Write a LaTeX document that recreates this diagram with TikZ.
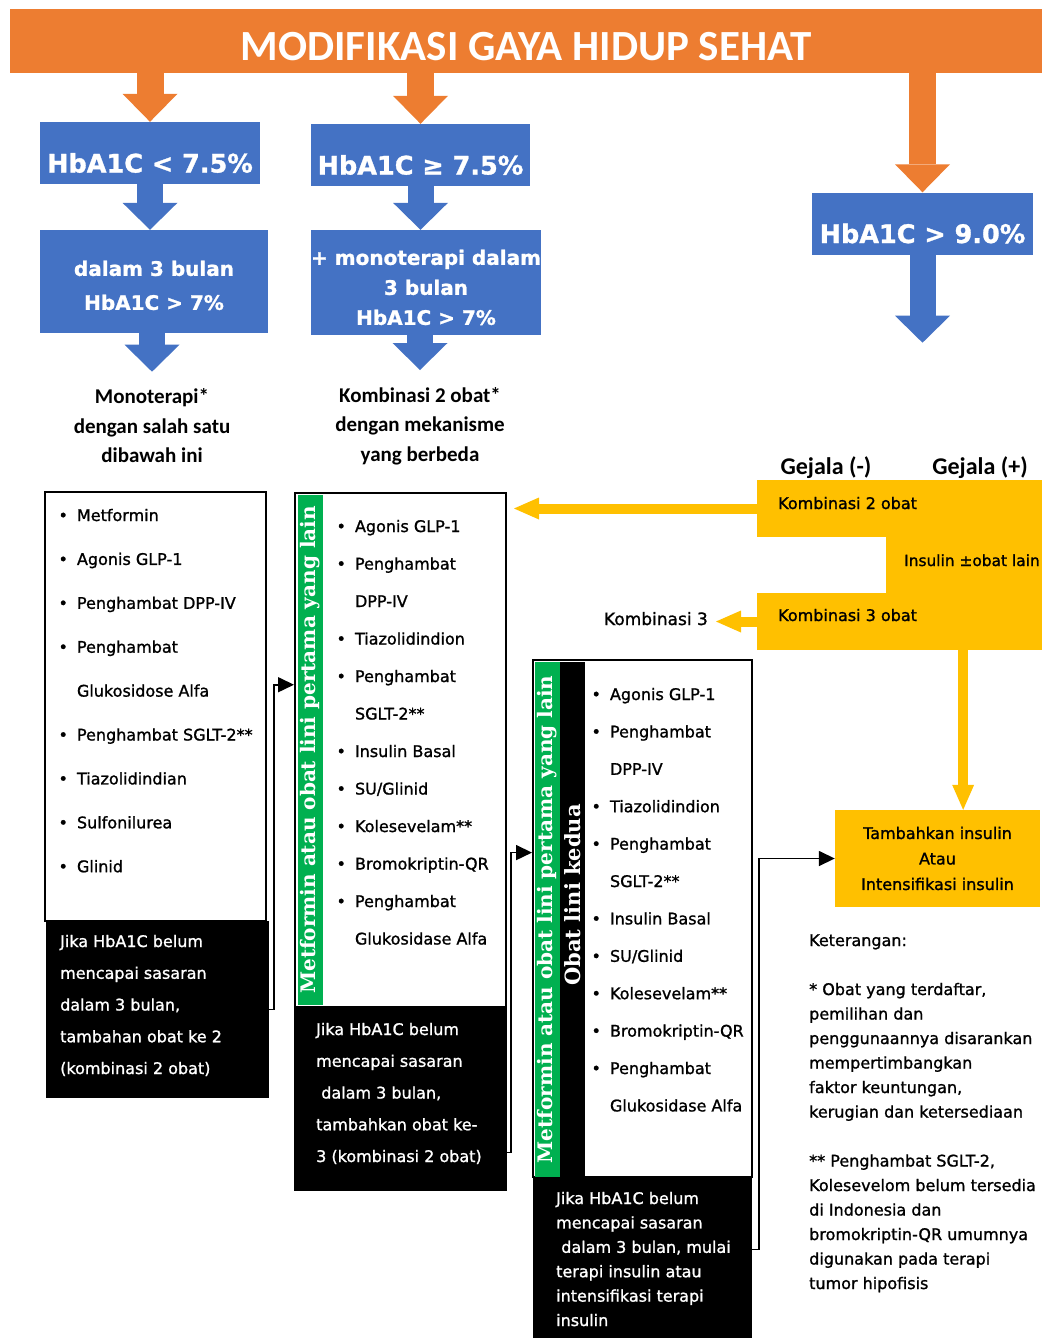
\documentclass[tikz,border=0pt]{standalone}
\usepackage{fontspec}
\setmainfont{DejaVu Sans}[FakeBold=1.2]
\newfontfamily\calfont{Carlito}
\newfontfamily\slabfont{DejaVu Serif}
\usepackage{xcolor}
\usepackage{tikz}
\usetikzlibrary{arrows.meta,positioning,calc}
\definecolor{ornj}{HTML}{ED7D31}
\definecolor{blu}{HTML}{4472C4}
\definecolor{kuning}{HTML}{FFC000}
\definecolor{hijau}{HTML}{00B050}
\newcommand{\bul}{\makebox[18.5pt][l]{\textbullet}}
\newcommand{\ind}{\hspace*{18.5pt}}

\begin{document}
\begin{tikzpicture}[x=1pt, y=-1pt,
    judulbox/.style={fill=ornj, text=white, inner sep=0pt, font=\calfont\bfseries\fontsize{43}{50}\selectfont},
    hba/.style={fill=blu, text=white, inner sep=0pt, minimum height=62pt, text height=41pt, text depth=2pt, font=\bfseries\fontsize{25.5}{30}\selectfont},
    dlm/.style={fill=blu, text=white, inner sep=0pt, align=center},
    ket/.style={font=\calfont\bfseries\fontsize{21}{29.5}\selectfont, align=center, inner sep=0pt},
    kotak/.style={draw, line width=2pt, fill=white, inner sep=0pt},
    hitam/.style={fill=black, inner sep=0pt},
    strip/.style={rotate=90, inner sep=0pt, text=white, font=\slabfont\bfseries\fontsize{20}{22}\selectfont},
    isi/.style={anchor=base west, inner sep=0pt},
    kng/.style={fill=kuning, inner sep=0pt},
    teks/.style={inner sep=0pt, font=\fontsize{16}{20}\selectfont},
    oarr/.style={draw=ornj, line width=27pt, -{Triangle[width=55pt, length=28pt, line width=0pt]}},
    barr/.style={draw=blu, line width=26pt, -{Triangle[width=55pt, length=27pt, line width=0pt]}},
    yarr/.style={draw=kuning, line width=10pt, -{Triangle[width=22pt, length=25pt, line width=0pt]}},
    conn/.style={draw, line width=1.6pt, -{Triangle[width=15pt, length=16pt]}}
  ]
    \useasboundingbox (0,0) rectangle (1042,1338);

    \node[judulbox, minimum width=1032pt, minimum height=64pt, text height=38pt, text depth=0pt] (judul) at (526,41) {MODIFIKASI GAYA HIDUP SEHAT};
    \node[hba, minimum width=220pt] (hbA) at (150,153) {HbA1C < 7.5\%};
    \node[hba, minimum width=219pt] (hbB) at (420.5,155) {HbA1C ≥ 7.5\%};
    \node[hba, minimum width=221pt] (hbC) at (922.5,223.5) {HbA1C > 9.0\%};
    \node[dlm, minimum width=228pt, minimum height=103pt, font=\bfseries\fontsize{20}{34}\selectfont] (dlmA) at (154,281.5) {\rule{0pt}{23pt}dalam 3 bulan\\HbA1C > 7\%};
    \node[dlm, minimum width=230pt, minimum height=105pt, font=\bfseries\fontsize{20}{30}\selectfont] (dlmB) at (426,282.5) {\rule{0pt}{25pt}+ monoterapi dalam\\3 bulan\\HbA1C > 7\%};
    \node[ket] (monoA) at (152,426) {Monoterapi*\\dengan salah satu\\dibawah ini};
    \node[ket] (kombB) at (420,426) {Kombinasi 2 obat*\\dengan mekanisme\\yang berbeda};

    \foreach \j in {hbA, hbB, hbC}
      \draw[oarr] (judul.south -| \j.north) -- (\j.north);
    \foreach \i/\j in {hbA/dlmA, hbB/dlmB}
      \draw[barr] (\i.south) -- (\i.south |- \j.north);
    \foreach \i/\j in {dlmA/monoA, dlmB/kombB}
      \draw[barr, shorten >=17pt] (\i.south -| \j.north) -- (\j.north);
    \coordinate (ujungC) at ($(hbC.south)+(0,88)$);
    \draw[barr] (hbC.south) -- (ujungC);

    \node[kotak, minimum width=221pt, minimum height=429pt] (lstA) at (155.5,706.5) {};
    \node[isi, font=\fontsize{16}{43.9}\selectfont] (isiA) at (58.3,521) {\begin{tabular}[t]{@{}l@{}}
      \bul Metformin\\ \bul Agonis GLP-1\\ \bul Penghambat DPP-IV\\ \bul Penghambat\\ \ind Glukosidose Alfa\\
      \bul Penghambat SGLT-2**\\ \bul Tiazolidindian\\ \bul Sulfonilurea\\ \bul Glinid
    \end{tabular}};
    \node[hitam, minimum width=223pt, minimum height=177pt] (ketA) at (157.5,1009.5) {};
    \node[isi, text=white, font=\fontsize{16}{31.75}\selectfont] (tA) at (60,947) {\begin{tabular}[t]{@{}l@{}}
      Jika HbA1C belum\\ mencapai sasaran\\ dalam 3 bulan,\\ tambahan obat ke 2\\ (kombinasi 2 obat)
    \end{tabular}};

    \node[kotak, minimum width=211pt, minimum height=514pt] (lstB) at (400.5,750) {};
    \node[strip, fill=hijau, minimum width=510pt, minimum height=25pt] (gB) at (310.5,750) {Metformin atau obat lini pertama yang lain};
    \node[isi, font=\fontsize{16}{37.5}\selectfont] (isiB) at (336.3,532) {\begin{tabular}[t]{@{}l@{}}
      \bul Agonis GLP-1\\ \bul Penghambat\\ \ind DPP-IV\\ \bul Tiazolidindion\\ \bul Penghambat\\ \ind SGLT-2**\\
      \bul Insulin Basal\\ \bul SU/Glinid\\ \bul Kolesevelam**\\ \bul Bromokriptin-QR\\ \bul Penghambat\\ \ind Glukosidase Alfa
    \end{tabular}};
    \node[hitam, minimum width=213pt, minimum height=184pt] (ketB) at (400.5,1099) {};
    \node[isi, text=white, font=\fontsize{16}{31.75}\selectfont] (tB) at (316,1035) {\begin{tabular}[t]{@{}l@{}}
      Jika HbA1C belum\\ mencapai sasaran\\ \ dalam 3 bulan,\\ tambahkan obat ke-\\ 3 (kombinasi 2 obat)
    \end{tabular}};

    \node[kotak, minimum width=219pt, minimum height=517pt] (lstC) at (642.5,918.5) {};
    \node[strip, fill=hijau, minimum width=515pt, minimum height=25pt] (gC) at (547.5,919.5) {Metformin atau obat lini pertama yang lain};
    \node[hitam, rotate=90, minimum width=515pt, minimum height=25pt] (hC) at (572.5,919.5) {};
    \node[strip, font=\slabfont\bfseries\fontsize{21}{22}\selectfont] (tkedua) at (572.5,895) {Obat lini kedua};
    \node[isi, font=\fontsize{16}{37.4}\selectfont] (isiC) at (591.3,700) {\begin{tabular}[t]{@{}l@{}}
      \bul Agonis GLP-1\\ \bul Penghambat\\ \ind DPP-IV\\ \bul Tiazolidindion\\ \bul Penghambat\\ \ind SGLT-2**\\
      \bul Insulin Basal\\ \bul SU/Glinid\\ \bul Kolesevelam**\\ \bul Bromokriptin-QR\\ \bul Penghambat\\ \ind Glukosidase Alfa
    \end{tabular}};
    \node[hitam, minimum width=219pt, minimum height=161pt] (ketC) at (642.5,1257.5) {};
    \node[isi, text=white, font=\fontsize{16}{24.4}\selectfont] (tC) at (556,1204) {\begin{tabular}[t]{@{}l@{}}
      Jika HbA1C belum\\ mencapai sasaran\\ \ dalam 3 bulan, mulai\\ terapi insulin atau\\ intensifikasi terapi\\ insulin
    \end{tabular}};

    \node[font=\calfont\bfseries\fontsize{24}{28}\selectfont, anchor=base, inner sep=0pt] (gjM) at (826,474) {Gejala (-)};
    \node[font=\calfont\bfseries\fontsize{24}{28}\selectfont, anchor=base, inner sep=0pt] (gjP) at (980,474) {Gejala (+)};
    \node[kng, minimum width=285pt, minimum height=57pt] (yk2) at (899.5,508.5) {};
    \node[kng, minimum width=156pt, minimum height=58pt] (yins) at (964,565) {};
    \node[kng, minimum width=285pt, minimum height=57pt] (yk3) at (899.5,621.5) {};
    \node[teks, anchor=base west] (tk2) at (778,509) {Kombinasi 2 obat};
    \node[teks, anchor=base west, font=\fontsize{15.4}{20}\selectfont] (tins) at (904,566) {Insulin ±obat lain};
    \node[teks, anchor=base west] (tk3) at (778,621) {Kombinasi 3 obat};
    \node[teks, anchor=base east, font=\fontsize{17}{20}\selectfont] (k3) at (708,625) {Kombinasi 3};
    \node[kng, align=center, minimum width=205pt, minimum height=97pt, font=\fontsize{16}{25.5}\selectfont] (tamb) at (937.5,858.5) {Tambahkan insulin\\Atau\\Intensifikasi insulin};

    \draw[yarr] (yk2.west) -- ($(yk2.west -| lstB.east)+(7,0)$);
    \draw[yarr] (yk3.west) -- ($(yk3.west -| k3.east)+(8,0)$);
    \coordinate (yturun) at ($(yk3.south west)!0.723!(yk3.south east)$);
    \draw[yarr] (yturun) -- (yturun |- tamb.north);

    \node[isi, font=\fontsize{16}{24.5}\selectfont] (catatan) at (809,946) {\begin{tabular}[t]{@{}l@{}}
      Keterangan:\\ \\ {*} Obat yang terdaftar,\\ pemilihan dan\\ penggunaannya disarankan\\ mempertimbangkan\\
      faktor keuntungan,\\ kerugian dan ketersediaan\\ \\ {**} Penghambat SGLT-2,\\ Kolesevelom belum tersedia\\
      di Indonesia dan\\ bromokriptin-QR umumnya\\ digunakan pada terapi\\ tumor hipofisis
    \end{tabular}};

    \draw[conn] (ketA.east) -- ++(5,0) |- ($(lstB.north west)!0.3735!(lstB.south west)$);
    \draw[conn] ($(ketB.north east)!0.79!(ketB.south east)$) -- ++(4,0) |- ($(lstC.north west)!0.373!(lstC.south west)$);
    \draw[conn] ($(ketC.north east)!0.45!(ketC.south east)$) -- ++(7,0) |- (tamb.west);
  \end{tikzpicture}
\end{document}
